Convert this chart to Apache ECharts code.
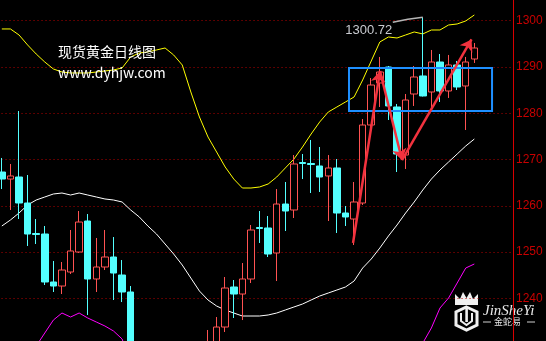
<!DOCTYPE html>
<html><head><meta charset="utf-8">
<script src="https://cdn.jsdelivr.net/npm/echarts@6/dist/echarts.min.js"></script>
<style>html,body{margin:0;padding:0;background:#000;}#c{width:546px;height:341px;}</style>
</head><body><div id="c"></div>
<script>
// ---- data ----
const categories = Array.from({length: 60}, (_, i) => 'D' + (i + 1));
const opens  = [1267.30,1265.78,1266.22,1260.60,1254.01,1253.90,1243.53,1242.66,1245.69,1250.01,1256.71,1244.18,1246.77,1248.93,1245.04,1241.37,1226.5,1222,1225,1219,1214,1218,1213.5,1220,1222,1226,1233.80,1242.45,1240.93,1244.18,1255.31,1255.20,1249.80,1260.38,1259.09,1269.35,1269.14,1268.60,1266.44,1268.17,1258.44,1257.14,1260.60,1277.46,1286.54,1289.99,1281.35,1270.97,1284.16,1288.05,1284.59,1291.07,1284.81,1290.43,1285.89,1291.72];
const closes = [1265.78,1266.44,1260.60,1253.90,1253.79,1243.53,1242.66,1246.12,1250.23,1256.49,1244.18,1246.77,1248.93,1245.47,1241.37,1226.67,1222,1225,1219,1214,1218,1213.5,1220,1223,1229,1233.80,1242.23,1240.93,1244.18,1254.77,1255.09,1249.58,1260.38,1258.87,1269.03,1269.14,1268.92,1266.22,1268.17,1258.44,1257.58,1260.82,1277.46,1286.10,1288.91,1281.57,1271.19,1282.86,1287.83,1283.73,1291.07,1284.81,1290.43,1285.67,1291.07,1294.10];
const lows   = [1263.62,1259.09,1257.14,1251.31,1251.74,1242.88,1241.37,1240.93,1245.26,1249.80,1236.40,1241.37,1246.12,1239.64,1239.20,1224.51,1219.5,1218,1216,1211,1212,1210,1211,1217,1218,1224,1232.72,1235.75,1235.31,1243.31,1251.96,1248.93,1243.74,1254.55,1257.36,1265.78,1262.76,1262.98,1256.71,1254.12,1255.63,1251.52,1260.17,1274.86,1281.35,1278.54,1267.30,1267.95,1281.57,1283.62,1280.70,1282.43,1283.30,1285.02,1276.38,1290.86];
const highs  = [1270.33,1269.03,1280.48,1266.65,1257.14,1255.63,1248.07,1247.85,1254.77,1258.87,1258.22,1253.04,1254.77,1253.25,1248.28,1242.66,1229,1228,1227.5,1221,1220.5,1221,1224,1228,1233.16,1235.96,1244.61,1243.96,1247.63,1255.85,1258.87,1257.79,1263.62,1265.14,1270.97,1271.19,1274.22,1272.70,1270.97,1270.11,1259.95,1265.14,1278.75,1287.61,1292.16,1290.21,1282.00,1284.16,1290.21,1300.72,1293.67,1292.80,1292.59,1291.29,1292.16,1295.18];
const upperBand = [1298.21,1298.21,1296.91,1294.75,1292.80,1291.07,1289.56,1288.91,1288.70,1288.70,1288.70,1288.91,1289.13,1289.35,1289.78,1292.16,1293.02,1293.24,1293.67,1294.10,1292.59,1290.43,1284.59,1279.19,1274.86,1271.62,1268.38,1265.78,1263.84,1263.84,1264.06,1264.71,1266.22,1268.17,1270.11,1272.70,1275.51,1278.11,1280.27,1281.35,1282.43,1283.51,1287.18,1291.29,1295.40,1296.48,1296.26,1296.91,1297.56,1297.13,1297.99,1297.99,1299.07,1299.29,1299.94,1301.23];
const midBand   = [1255.63,1256.93,1258.44,1260.17,1261.25,1261.90,1262.55,1262.76,1262.33,1262.76,1262.33,1261.90,1261.47,1261.25,1260.82,1259.09,1257.58,1255.63,1253.90,1251.74,1249.58,1247.20,1244.39,1241.58,1239.64,1238.34,1237.48,1236.83,1236.18,1236.18,1236.18,1236.40,1236.83,1237.48,1238.13,1238.77,1239.64,1240.50,1241.15,1241.80,1242.45,1243.74,1246.55,1248.50,1250.88,1253.47,1255.85,1258.44,1260.82,1263.41,1265.78,1267.73,1269.46,1271.19,1272.92,1274.43];
const lowerBand = [1213.05,1215.65,1219.97,1225.59,1229.70,1232.51,1235.31,1236.83,1235.96,1236.83,1235.75,1234.88,1234.02,1232.94,1231.21,1226.02,1222.13,1218.03,1214.13,1209.38,1206.57,1203.98,1204.19,1203.98,1204.41,1205.06,1206.57,1207.87,1208.51,1208.51,1208.30,1208.08,1207.43,1206.79,1206.14,1204.84,1203.76,1202.90,1202.03,1202.25,1202.46,1203.98,1205.92,1205.71,1206.35,1210.46,1215.43,1219.97,1224.08,1230.34,1233.59,1237.91,1240.07,1243.31,1246.55,1247.42];
const yMin = 1230.78, yMax = 1304.47;
const boxX = [40.41, 57.06];
const boxY = [1280.48, 1289.78];
const arrowX = [40.88, 44.02, 46.58, 54.67];
const arrowY = [1251.96, 1289.13, 1269.89, 1295.94];
const highIndex = 49, highValue = 1300.72;
const titleLines = ['现货黄金日线图', 'www.dyhjw.com'];

const candleData = opens.map((o, i) => [o, closes[i], lows[i], highs[i]]);
const arrows = [];
for (let i = 0; i < arrowX.length - 1; i++) {
  arrows.push({coords: [[arrowX[i], arrowY[i]], [arrowX[i + 1], arrowY[i + 1]]]});
}

const chart = echarts.init(document.getElementById('c'), null, {renderer: 'canvas'});
chart.setOption({
  backgroundColor: '#000',
  animation: false,
  grid: {left: -2.46, right: 33, top: 0, bottom: 0, containLabel: false, outerBoundsMode: 'none'},
  xAxis: [
    {type: 'category', data: categories, show: false, boundaryGap: true},
    {type: 'value', min: -0.5, max: 59.5, show: false}
  ],
  yAxis: {
    type: 'value', position: 'right', min: yMin, max: yMax, splitNumber: 7,
    axisLine: {show: true, onZero: false, lineStyle: {color: '#d80000', width: 1}},
    axisTick: {show: false},
    axisLabel: {color: '#c80000', fontSize: 12, fontFamily: 'Liberation Sans', margin: 3,
      showMinLabel: false, showMaxLabel: false, formatter: v => Math.round(v).toString()},
    splitLine: {show: true, showMinLine: false, showMaxLine: false,
      lineStyle: {color: '#b40000', type: [1, 3], width: 1}}
  },
  series: [
    {type: 'line', data: upperBand, symbol: 'none', lineStyle: {color: '#ffff00', width: 1}, silent: true, z: 1},
    {type: 'line', data: midBand, symbol: 'none', lineStyle: {color: '#ffffff', width: 1}, silent: true, z: 1},
    {type: 'line', data: lowerBand, symbol: 'none', lineStyle: {color: '#ff00ff', width: 1}, silent: true, z: 1},
    {type: 'candlestick', data: candleData, barWidth: 7, z: 2,
      itemStyle: {color: '#000000', color0: '#54ffff', borderColor: '#ff5252', borderColor0: '#54ffff', borderWidth: 1}},
    {type: 'custom', xAxisIndex: 1, yAxisIndex: 0, silent: true, z: 6,
      data: [[boxX[0], boxY[1], boxX[1], boxY[0]]],
      renderItem: (params, api) => {
        const p0 = api.coord([api.value(0), api.value(1)]);
        const p1 = api.coord([api.value(2), api.value(3)]);
        return {type: 'rect', shape: {x: p0[0], y: p0[1], width: p1[0] - p0[0], height: p1[1] - p0[1]},
          style: {fill: 'transparent', stroke: '#1e8fff', lineWidth: 2}};
      }},
    {type: 'lines', coordinateSystem: 'cartesian2d', xAxisIndex: 1, yAxisIndex: 0, z: 7, silent: true,
      symbol: ['none', 'arrow'], symbolSize: 11,
      lineStyle: {color: '#f2323e', width: 2.5, opacity: 1},
      data: arrows},
    {type: 'custom', xAxisIndex: 1, yAxisIndex: 0, silent: true, z: 8,
      data: [[highIndex, highValue]],
      renderItem: (params, api) => {
        const p = api.coord([api.value(0), api.value(1)]);
        return {type: 'group', children: [
          {type: 'polyline', shape: {points: [[p[0] - 30, p[1] + 5], [p[0] - 15, p[1] + 2], [p[0], p[1]]]},
            style: {stroke: '#b5b5b5', lineWidth: 1.5, fill: null}},
          {type: 'text', style: {text: api.value(1).toFixed(2), x: p[0] - 30.5, y: p[1] + 13.5,
            align: 'right', verticalAlign: 'middle', fill: '#c9cbd0', font: '13px "Liberation Sans"'}}
        ]};
      }}
  ],
  graphic: [
    {type: 'text', left: 58, top: 45, z: 10, style: {text: titleLines[0], fill: '#ffffff', font: '14px "Noto Sans CJK SC"'}},
    {type: 'text', left: 58, top: 66, z: 10, style: {text: titleLines[1], fill: '#ffffff', font: '14px "Noto Sans CJK SC"'}},
    {type: 'group', z: 10, children: [
      {type: 'polygon', shape: {points: [[455,305],[455,294],[460,299],[463,292],[466.5,298],[470,292],[473,299],[478,294],[478,305]]}, style: {fill: '#f0f0f0'}},
      {type: 'polygon', shape: {points: [[466.5,307],[477,312],[477,325],[466.5,330],[456,325],[456,312]]}, style: {fill: 'transparent', stroke: '#f0f0f0', lineWidth: 3}},
      {type: 'polyline', shape: {points: [[461,313],[461,321],[466.5,325],[472,321],[472,313]]}, style: {fill: 'transparent', stroke: '#f0f0f0', lineWidth: 2}},
      {type: 'rect', shape: {x: 465.3, y: 308, width: 2.6, height: 14}, style: {fill: '#f0f0f0'}},
      {type: 'text', x: 483, y: 304, style: {text: 'JinSheYi', fill: '#e8e8e8', font: 'italic 15px "Liberation Serif"'}},
      {type: 'line', shape: {x1: 483, y1: 322, x2: 491, y2: 322}, style: {stroke: '#d0d0d0', lineWidth: 1}},
      {type: 'line', shape: {x1: 527, y1: 322, x2: 535, y2: 322}, style: {stroke: '#d0d0d0', lineWidth: 1}},
      {type: 'text', x: 494, y: 317, style: {text: '金蛇易', fill: '#e0e0e0', font: '9px "Noto Sans CJK SC"'}}
    ]}
  ]
});
</script></body></html>
